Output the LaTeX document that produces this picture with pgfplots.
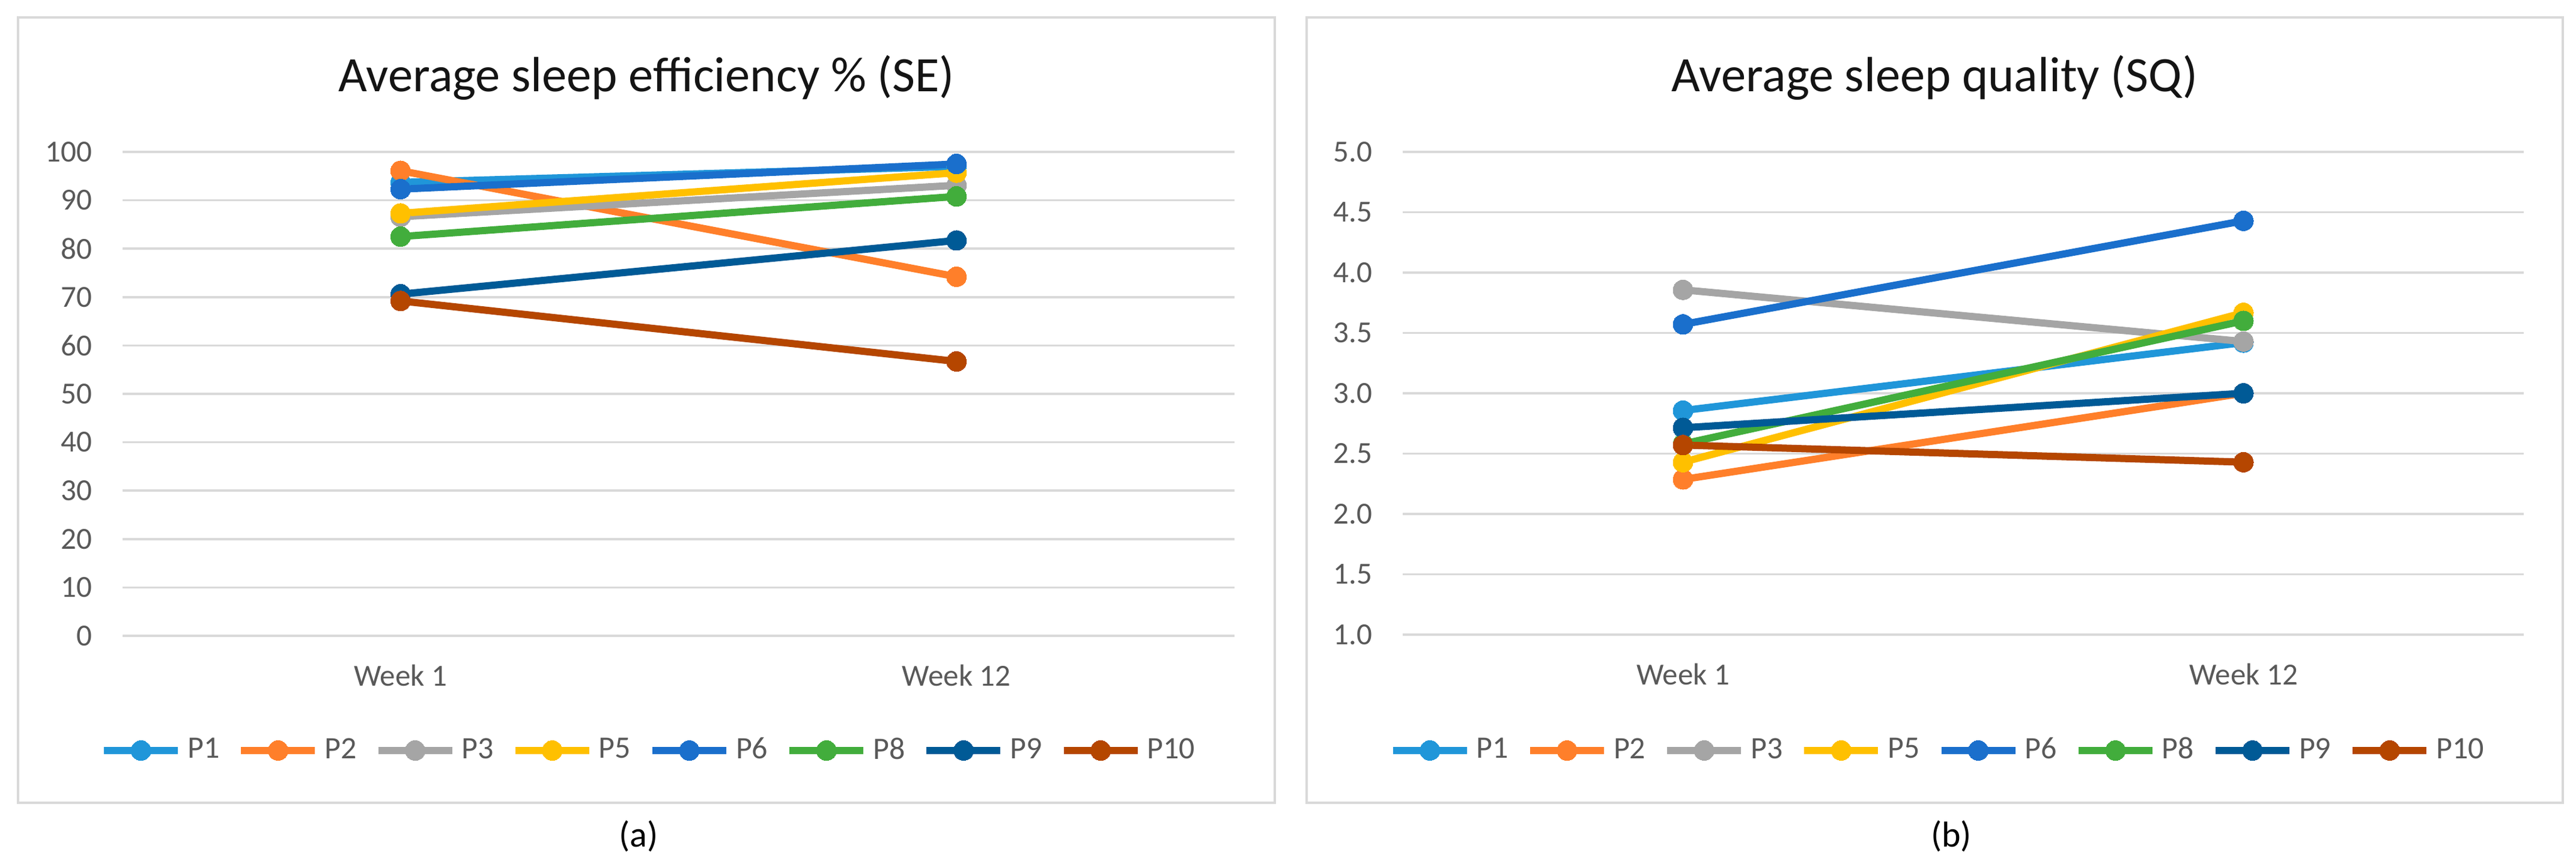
\documentclass[border=0pt]{standalone}
\usepackage{fontspec}
\setmainfont{Carlito}
\usepackage{pgfplots}
\usepackage{pgfplotstable}
\pgfplotsset{compat=1.18}
\definecolor{cP1}{RGB}{32,150,217}
\definecolor{cP2}{RGB}{255,127,42}
\definecolor{cP3}{RGB}{165,165,165}
\definecolor{cP5}{RGB}{255,192,0}
\definecolor{cP6}{RGB}{26,111,204}
\definecolor{cP8}{RGB}{66,173,60}
\definecolor{cP9}{RGB}{0,90,150}
\definecolor{cP10}{RGB}{181,70,0}
\definecolor{gridgray}{RGB}{217,217,217}
\definecolor{ticktext}{RGB}{89,89,89}
\definecolor{titletext}{RGB}{20,20,20}

\pgfplotstableread{
x P1 P2 P3 P5 P6 P8 P9 P10
0 93.7 96.1 86.6 87.3 92.3 82.5 70.6 69.2
1 97.0 74.2 93.1 95.7 97.5 90.8 81.7 56.7
}\SEdata

\pgfplotstableread{
x P1 P2 P3 P5 P6 P8 P9 P10
0 2.857 2.286 3.857 2.429 3.571 2.580 2.714 2.571
1 3.420 3.000 3.429 3.667 4.429 3.600 3.000 2.429
}\SQdata

\pgfplotsset{
  sleep/.style={
    scale only axis,
    anchor=south west,
    xmin=-0.5, xmax=1.5,
    xtick={0,1}, xticklabels={Week 1, Week 12},
    axis line style={draw=none},
    major tick length=0pt,
    ymajorgrids,
    grid style={gridgray, line width=0.7pt},
    tick label style={font=\fontsize{10.2pt}{12pt}\selectfont, text=ticktext},
    yticklabel style={anchor=east, inner sep=0pt, xshift=-10pt},
    xticklabel style={anchor=north, inner sep=0pt, yshift=-9.5pt},
    /pgf/number format/assume math mode=true,
    clip=false,
    legend columns=8,
    legend style={draw=none, fill=none, anchor=center,
      font=\fontsize{10.4pt}{12pt}\selectfont, text=ticktext,
      /tikz/every even column/.append style={column sep=4pt},
      /tikz/every odd column/.append style={column sep=0pt}},
    legend image code/.code={
      \draw[mark repeat=2,mark phase=2,#1] plot coordinates {(0pt,0pt)(12.3pt,0pt)(24.6pt,0pt)};
    },
    every axis plot/.append style={line width=2.4pt, mark=*, mark size=3.3pt},
  },
  ser/.style={color=#1, mark options={solid, fill=#1, draw=#1, line width=0pt}},
}

\begin{document}
\begin{tikzpicture}
\useasboundingbox (0pt,0pt) rectangle (857.6pt,288.8pt);
\fill[white] (0pt,0pt) rectangle (857.6pt,288.8pt);
\draw[gridgray, line width=0.8pt] (6pt,21.4pt) rectangle (424.4pt,283pt);
\draw[gridgray, line width=0.8pt] (435pt,21.4pt) rectangle (853.2pt,283pt);

\node[anchor=base, text=titletext, font=\fontsize{16.5pt}{19pt}\selectfont] at (215.2pt,258.2pt) {Average sleep efficiency \% (SE)};
\node[anchor=base, text=titletext, font=\fontsize{16.5pt}{19pt}\selectfont] at (644.1pt,258.2pt) {Average sleep quality (SQ)};

\node[anchor=center, font=\fontsize{12pt}{14pt}\selectfont] at (212.6pt,10.2pt) {(a)};
\node[anchor=center, font=\fontsize{12pt}{14pt}\selectfont] at (649.6pt,10.2pt) {(b)};

\begin{axis}[sleep, at={(40.8pt,77.0pt)}, width=370.2pt, height=161.2pt,
  ymin=0, ymax=100, ytick distance=10,
  legend style={at={(axis description cs:0.475,-0.237)}}]
\addplot[ser=cP1] table[x=x,y=P1] {\SEdata}; \addlegendentry{P1}
\addplot[ser=cP2] table[x=x,y=P2] {\SEdata}; \addlegendentry{P2}
\addplot[ser=cP3] table[x=x,y=P3] {\SEdata}; \addlegendentry{P3}
\addplot[ser=cP5] table[x=x,y=P5] {\SEdata}; \addlegendentry{P5}
\addplot[ser=cP6] table[x=x,y=P6] {\SEdata}; \addlegendentry{P6}
\addplot[ser=cP8] table[x=x,y=P8] {\SEdata}; \addlegendentry{P8}
\addplot[ser=cP9] table[x=x,y=P9] {\SEdata}; \addlegendentry{P9}
\addplot[ser=cP10] table[x=x,y=P10] {\SEdata}; \addlegendentry{P10}
\end{axis}

\begin{axis}[sleep, at={(467.0pt,77.4pt)}, width=373.2pt, height=160.8pt,
  ymin=1, ymax=5, ytick distance=0.5,
  yticklabel style={/pgf/number format/.cd, fixed, fixed zerofill, precision=1},
  legend style={at={(axis description cs:0.479,-0.24)}}]
\addplot[ser=cP1] table[x=x,y=P1] {\SQdata}; \addlegendentry{P1}
\addplot[ser=cP2] table[x=x,y=P2] {\SQdata}; \addlegendentry{P2}
\addplot[ser=cP3] table[x=x,y=P3] {\SQdata}; \addlegendentry{P3}
\addplot[ser=cP5] table[x=x,y=P5] {\SQdata}; \addlegendentry{P5}
\addplot[ser=cP6] table[x=x,y=P6] {\SQdata}; \addlegendentry{P6}
\addplot[ser=cP8] table[x=x,y=P8] {\SQdata}; \addlegendentry{P8}
\addplot[ser=cP9] table[x=x,y=P9] {\SQdata}; \addlegendentry{P9}
\addplot[ser=cP10] table[x=x,y=P10] {\SQdata}; \addlegendentry{P10}
\end{axis}
\end{tikzpicture}
\end{document}
